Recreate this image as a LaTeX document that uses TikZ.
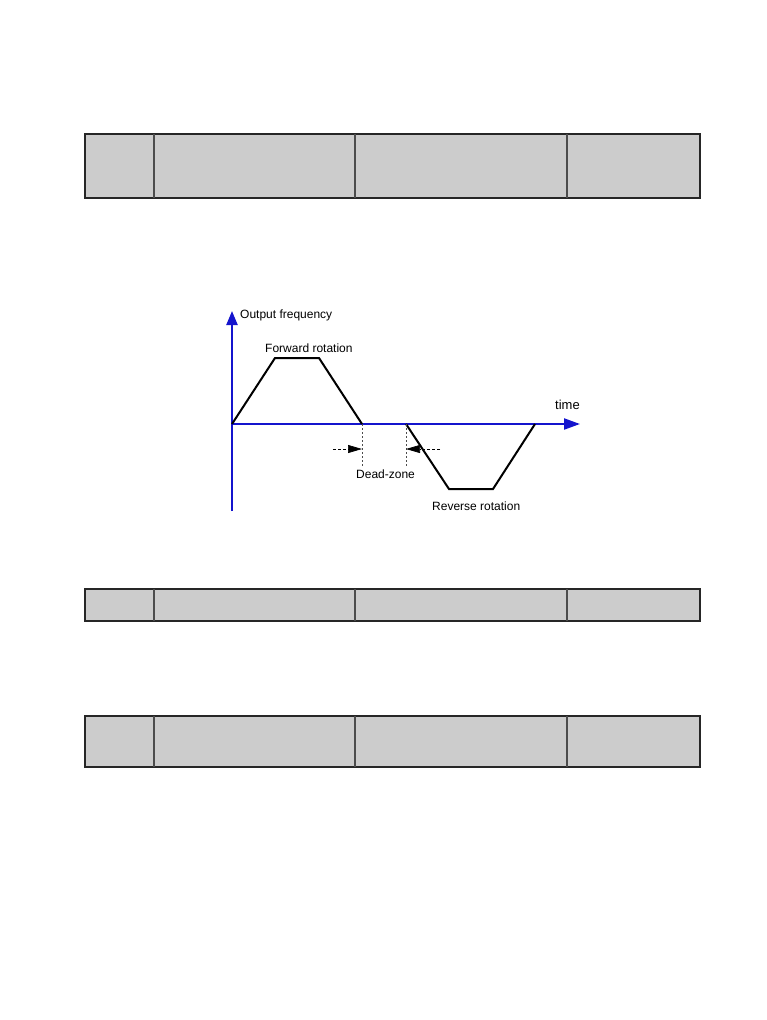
\documentclass[tikz,border=0pt]{standalone}
\usepackage{fontspec}
\setmainfont{Liberation Sans}
\usetikzlibrary{arrows.meta}
\definecolor{axisblue}{RGB}{20,20,205}
\definecolor{cellgray}{RGB}{204,204,204}
\begin{document}
\begin{tikzpicture}[
    x=1pt, y=-1pt,
    tablebox/.style={draw=black!85, fill=cellgray, line width=1.6pt},
    tablerule/.style={draw=black!70, line width=1.6pt},
    axis/.style={axisblue, line width=2.2pt},
    curve/.style={black, line width=2pt, line join=miter},
    guide/.style={black!70, line width=0.6pt, dash pattern=on 2pt off 2pt},
    zonearrow/.style={black, line width=0.7pt, dash pattern=on 3pt off 2pt, -{Triangle[length=14pt, width=8pt]}},
    label/.style={font=\fontsize{12}{14}\selectfont, anchor=base west, inner sep=0pt}
]
\useasboundingbox (0,0) rectangle (766,1020);

% Tables (top, middle, bottom)
\foreach \top/\bot in {134/198, 589/621, 716/767} {
  \draw[tablebox] (85,\top) rectangle (700,\bot);
  \foreach \xc in {154, 355, 567}
    \draw[tablerule] (\xc,\top) -- (\xc,\bot);
}

% Axes
\coordinate (origin) at (232,424);
\coordinate (ybottom) at (232,511);
\coordinate (ytip) at (232,311);
\coordinate (xtip) at (580,424);
\draw[axis, -{Triangle[length=14pt, width=11pt]}] (ybottom) -- (ytip);
\draw[axis, -{Triangle[length=16pt, width=11pt]}] (origin) -- (xtip);

% Forward rotation
\coordinate (fwdA) at (275,358);
\coordinate (fwdB) at (319,358);
\coordinate (fwdEnd) at (362,424);
\draw[curve] (origin) -- (fwdA) -- (fwdB) -- (fwdEnd);

% Reverse rotation
\coordinate (revStart) at (406,424);
\coordinate (revA) at (449,489);
\coordinate (revB) at (493,489);
\coordinate (revEnd) at (535,424);
\draw[curve] (revStart) -- (revA) -- (revB) -- (revEnd);

% Dead-zone markers
\coordinate (fwdGuide) at (362,466);
\coordinate (revGuide) at (406,466);
\draw[guide] (fwdEnd) -- (fwdGuide);
\draw[guide] (revStart) -- (revGuide);
\coordinate (leftTail) at (333,449);
\coordinate (leftHead) at (362,449);
\coordinate (rightTail) at (440,449);
\coordinate (rightHead) at (406,449);
\draw[zonearrow] (leftTail) -- (leftHead);
\draw[zonearrow] (rightTail) -- (rightHead);

% Labels
\node[label] (freqlabel) at (240,318) {Output frequency};
\node[label] (fwdlabel) at (265,352) {Forward rotation};
\node[label, font=\fontsize{13}{15}\selectfont] (timelabel) at (555,409) {time};
\node[label] (zonelabel) at (356,478) {Dead-zone};
\node[label] (revlabel) at (432,510) {Reverse rotation};

\end{tikzpicture}
\end{document}
